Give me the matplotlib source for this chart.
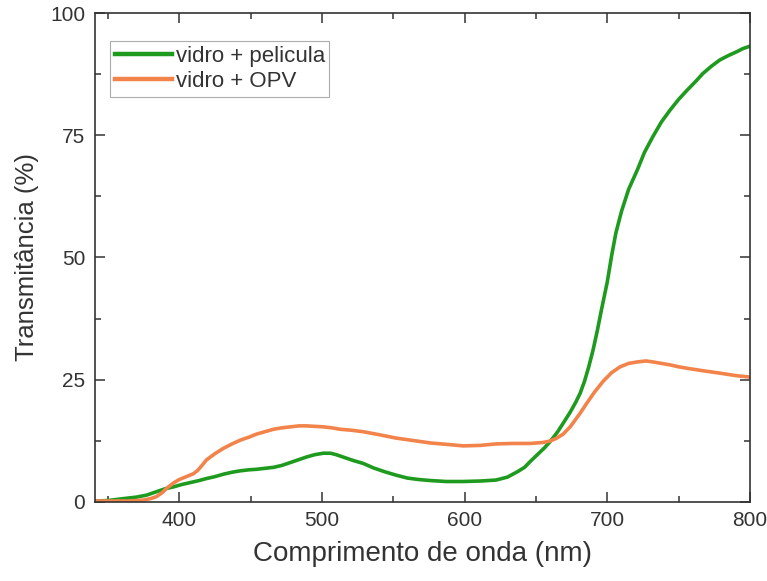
import matplotlib.pyplot as plt
from matplotlib.ticker import MultipleLocator

# ---------------- data ----------------------------------------
wl_pelicula = [341, 350, 361, 370, 377, 384, 390, 396, 402, 408, 414, 419, 425, 431,
               437, 443, 449, 454, 460, 466, 472, 478, 484, 489, 495, 501, 506, 510,
               516, 522, 529, 536, 544, 552, 560, 568, 576, 587, 599, 611, 622, 630,
               637, 642, 646, 651, 656, 660, 665, 669, 674, 678, 681, 684, 687, 690,
               693, 696, 700, 703, 706, 710, 715, 721, 726, 732, 738, 744, 750, 756,
               762, 767, 773, 779, 785, 791, 795, 800]
t_pelicula = [0.1, 0.2, 0.6, 0.9, 1.3, 2.0, 2.6, 3.0, 3.5, 3.9, 4.3, 4.7, 5.1, 5.6,
              6.0, 6.3, 6.5, 6.6, 6.8, 7.0, 7.4, 8.0, 8.6, 9.1, 9.6, 9.9, 9.9, 9.6,
              9.0, 8.4, 7.8, 6.9, 6.1, 5.4, 4.8, 4.5, 4.3, 4.1, 4.1, 4.2, 4.4, 5.0,
              6.1, 7.0, 8.2, 9.6, 11.0, 12.3, 14.2, 16.0, 18.3, 20.4, 22.2, 24.6, 27.6, 31.0,
              35.0, 39.4, 45.0, 50.3, 55.0, 59.5, 64.0, 67.9, 71.5, 74.8, 77.8, 80.2, 82.4, 84.3,
              86.1, 87.7, 89.2, 90.5, 91.4, 92.2, 92.8, 93.3]

wl_opv = [341, 355, 365, 375, 380, 384, 388, 392, 396, 400, 405, 410, 413, 416,
          419, 425, 431, 437, 443, 449, 454, 460, 466, 472, 478, 484, 489, 495,
          501, 507, 513, 521, 529, 540, 552, 564, 576, 588, 599, 611, 622, 634,
          646, 655, 660, 664, 669, 674, 678, 681, 686, 691, 697, 703, 709, 715,
          721, 727, 732, 738, 744, 750, 756, 767, 779, 790, 800]
t_opv = [0.1, 0.1, 0.1, 0.3, 0.6, 1.0, 1.8, 2.9, 3.8, 4.5, 5.1, 5.7, 6.4, 7.4,
         8.5, 9.8, 10.9, 11.8, 12.6, 13.2, 13.8, 14.3, 14.8, 15.1, 15.3, 15.5, 15.5, 15.4,
         15.3, 15.1, 14.8, 14.6, 14.3, 13.7, 13.0, 12.5, 12.0, 11.7, 11.4, 11.5, 11.8, 11.9,
         11.9, 12.1, 12.4, 12.9, 13.8, 15.3, 16.9, 18.1, 20.3, 22.4, 24.6, 26.4, 27.6, 28.3,
         28.6, 28.8, 28.6, 28.3, 28.0, 27.6, 27.3, 26.8, 26.3, 25.8, 25.5]

labels = ['vidro + pelicula', 'vidro + OPV']

# ---------------- figure -----------------
plt.rcParams['font.family'] = ['Liberation Sans', 'DejaVu Sans']

fig = plt.figure(figsize=(7.67, 5.81), dpi=100)
ax = fig.add_axes([0.1239, 0.1368, 0.8539, 0.8400])

ax.plot(wl_pelicula, t_pelicula, color='#1e9b1e', lw=2.6, label=labels[0])
ax.plot(wl_opv, t_opv, color='#f2844b', lw=2.6, label=labels[1])

ax.set_xlim(341, 800)
ax.set_ylim(0, 100)

ax.xaxis.set_major_locator(MultipleLocator(100))
ax.xaxis.set_minor_locator(MultipleLocator(50))
ax.yaxis.set_major_locator(MultipleLocator(25))
ax.yaxis.set_minor_locator(MultipleLocator(12.5))

ax.tick_params(which='both', direction='in', top=True, right=True,
               color='#333333', width=1.1)
ax.tick_params(which='major', length=7, labelsize=15, labelcolor='#333333', pad=7)
ax.tick_params(which='minor', length=4)

for s in ax.spines.values():
    s.set_linewidth(1.2)
    s.set_color('#333333')

ax.set_xlabel('Comprimento de onda (nm)', fontsize=20, color='#333333', labelpad=8)
ax.set_ylabel('Transmitância (%)', fontsize=18.5, color='#333333', labelpad=8)

leg = ax.legend(loc='upper left', bbox_to_anchor=(0.023, 0.943), borderaxespad=0,
                fontsize=16, handlelength=2.6, handletextpad=0.15, labelspacing=0.2,
                borderpad=0.2, fancybox=False, frameon=True)
leg.get_frame().set_edgecolor('#999999')
leg.get_frame().set_linewidth(0.8)
for line in leg.get_lines():
    line.set_linewidth(3.2)
for t in leg.get_texts():
    t.set_color('#333333')

fig.savefig('out.png', dpi=100)
